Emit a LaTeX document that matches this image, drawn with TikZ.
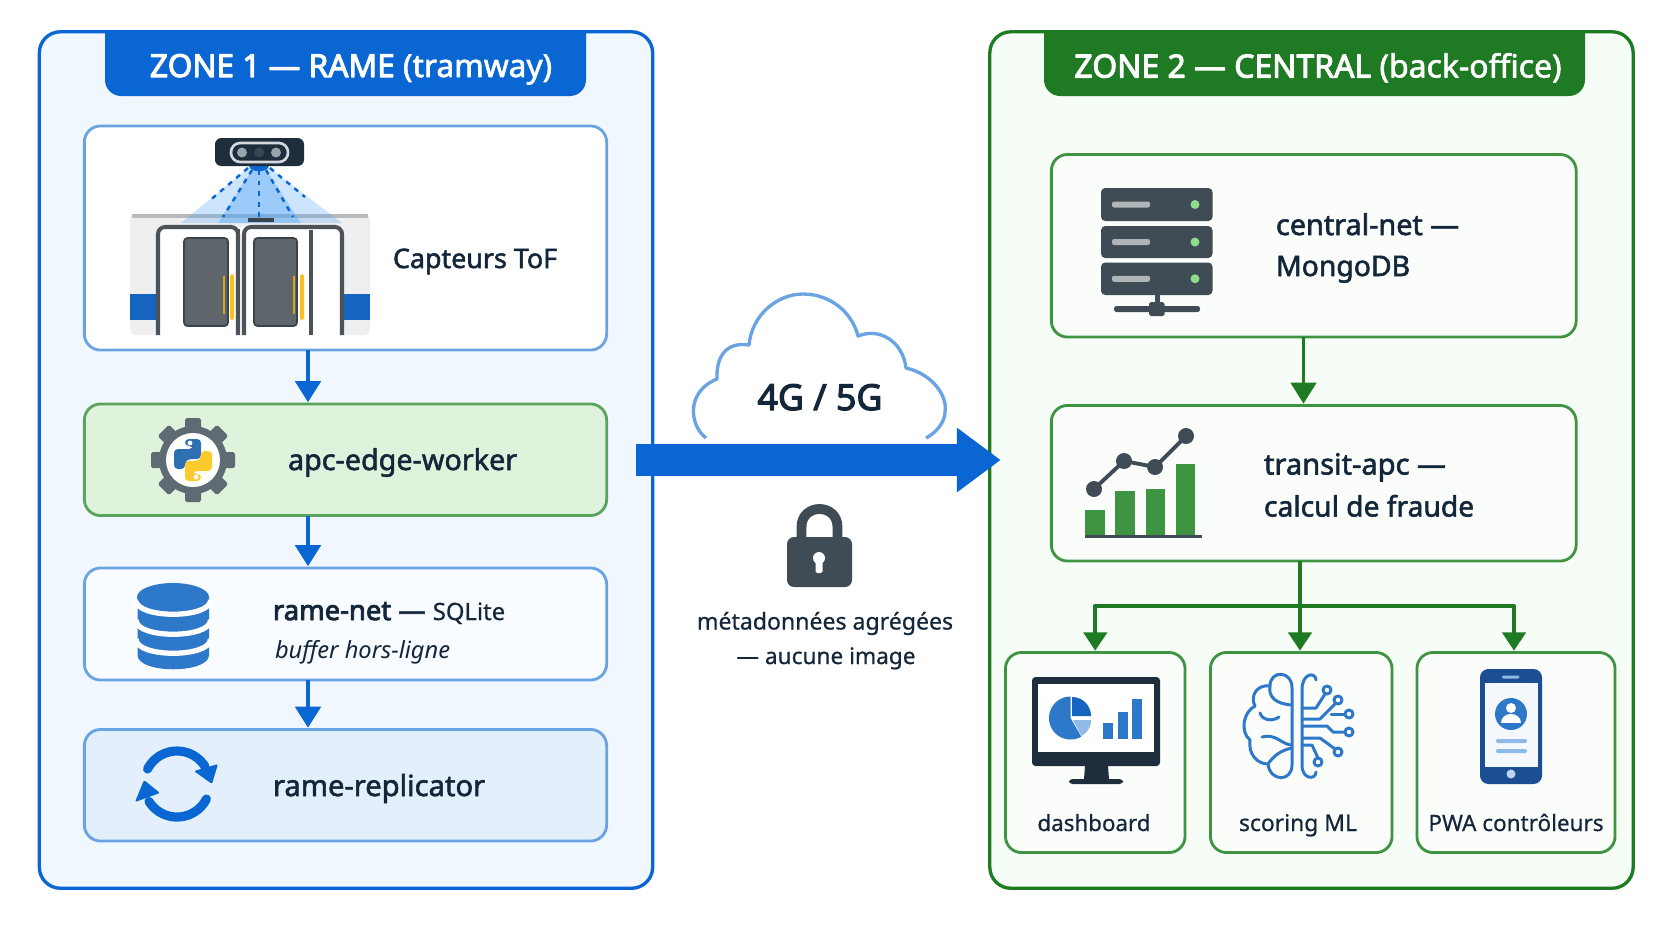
\documentclass[tikz,border=0pt]{standalone}
\usepackage{graphicx}
\usepackage{fontspec}
\setmainfont{Noto Sans}
\newfontfamily\medf[FakeBold=1.9]{Noto Sans}
\newfontfamily\boldf[FakeBold=3.2]{Noto Sans}
\newfontfamily\lightf[FakeBold=0.6]{Noto Sans}
\usetikzlibrary{arrows.meta,calc}
\newlength\pxu \setlength\pxu{0.28453pt}
\definecolor{zblue}{HTML}{0A66D2}
\definecolor{zgreen}{HTML}{1F7A24}
\definecolor{zblueF}{HTML}{F0F7FF}
\definecolor{zgreenF}{HTML}{F6FCF6}
\definecolor{bblue}{HTML}{69A3E2}
\definecolor{bgreen}{HTML}{3E9440}
\definecolor{ink}{HTML}{13263A}
\definecolor{slate}{HTML}{3F4B55}
\definecolor{navy}{HTML}{1F2E3D}
\definecolor{iconb}{HTML}{2E78CA}
\definecolor{paleb}{HTML}{8FB9E6}
\definecolor{gearc}{HTML}{5F6B73}
\definecolor{pyb}{HTML}{2F70B2}
\definecolor{pyy}{HTML}{FBCB2E}
\definecolor{doorc}{HTML}{4B5359}
\definecolor{apcF}{HTML}{DFF3DC}
\definecolor{netF}{HTML}{F8FBFF}
\definecolor{replF}{HTML}{E3F0FC}
\definecolor{cardG}{HTML}{FAFDFA}
\definecolor{wallc}{HTML}{EFEFEF}
\definecolor{roofc}{HTML}{B8BBBD}
\definecolor{DoorBlue}{HTML}{1565C0}
\definecolor{winB}{HTML}{3C4348}
\definecolor{winF}{HTML}{5F666B}
\definecolor{yel}{HTML}{FBBF24}
\definecolor{yelD}{HTML}{D9A520}
\definecolor{pillc}{HTML}{D3D8DC}
\definecolor{lensL}{HTML}{9BA4AA}
\definecolor{lensD}{HTML}{3A4650}
\definecolor{barG}{HTML}{B0B5B8}
\definecolor{LedG}{HTML}{8FDC8A}
\definecolor{PhoneB}{HTML}{1B4F91}
\definecolor{phoneS}{HTML}{F5F8FC}
\definecolor{conec}{HTML}{4FA3F5}
\newcommand\fitw[2]{\resizebox{#1\pxu}{!}{\fontsize{10}{12}\selectfont #2}}
\newcommand\bx[6]{\node[#6,minimum width={(#4-#2)*0.28453pt},minimum height={(#5-#3)*0.28453pt}] (#1) at ({(#2+#4)/2},{(#3+#5)/2}) {};}
\tikzset{
  every node/.style={inner sep=0pt,outer sep=0pt},
  zone1/.style={draw=zblue,fill=zblueF,line width=0.95pt,rounded corners=6pt},
  zone2/.style={draw=zgreen,fill=zgreenF,line width=0.95pt,rounded corners=6pt},
  bluebox/.style={draw=bblue,fill=white,line width=0.8pt,rounded corners=4.6pt},
  greenbox/.style={draw=bgreen,fill=cardG,line width=0.8pt,rounded corners=4.6pt},
  lab/.style={text=ink},
  barrow/.style={draw=zblue,line width=1.15pt,-{Triangle[length=6pt,width=7.2pt]},shorten >=0.5pt},
  garrow/.style={draw=zgreen,line width=1.1pt,-{Triangle[length=5.2pt,width=6.6pt]},shorten >=0.5pt},
  garrowbig/.style={draw=zgreen,line width=1.05pt,-{Triangle[length=6pt,width=7.2pt]},shorten >=0.5pt},
}
\begin{document}
\begin{tikzpicture}[x=0.01cm,y=-0.01cm,line join=round]
\useasboundingbox (0,0) rectangle (1672,941);
\fill[white] (0,0) rectangle (1672,941);
% ---------- zones
\bx{zoneA}{39.5}{32}{652.5}{888}{zone1}
\bx{zoneB}{990}{32}{1633}{888}{zone2}
\fill[zblue,rounded corners=4.6pt] (105,32) -- (105,96) -- (586,96) -- (586,32);
\fill[zgreen,rounded corners=4.6pt] (1044,32) -- (1044,96) -- (1585,96) -- (1585,32);
\node[anchor=base,text=white] (titleA) at (351,77) {\fitw{402}{\boldf ZONE 1 — RAME \medf(tramway)}};
\node[anchor=base,text=white] (titleB) at (1318,77.5) {\fitw{487}{\boldf ZONE 2 — CENTRAL \medf(back-office)}};
% ---------- left boxes
\bx{capt}{84.5}{126}{606.5}{350}{bluebox}
\bx{apc}{84.5}{404}{606.5}{515.5}{bluebox,draw=bgreen!85!white,fill=apcF}
\bx{ramenet}{84.5}{568}{606.5}{680}{bluebox,fill=netF}
\bx{repl}{84.5}{729.5}{606.5}{841}{bluebox,fill=replF}
\coordinate (lx) at (308,0);
\draw[barrow] (capt.south -| lx) -- (apc.north -| lx);
\draw[barrow] (apc.south -| lx) -- (ramenet.north -| lx);
\draw[barrow] (ramenet.south -| lx) -- (repl.north -| lx);
% ---------- right boxes
\bx{central}{1051.5}{154.5}{1576}{337}{greenbox}
\bx{transit}{1051.5}{405.5}{1576}{561}{greenbox}
\bx{dash}{1005.5}{652.5}{1185}{852.5}{greenbox}
\bx{score}{1210.5}{652.5}{1392}{852.5}{greenbox}
\bx{pwa}{1417}{652.5}{1615}{852.5}{greenbox}
\coordinate (cx) at (1303.5,0);
\draw[garrowbig] (central.south -| cx) -- (transit.north -| cx);
\coordinate (bus) at (1300,606);
\coordinate (pwax) at (1514,0);
\draw[garrow] (transit.south -| bus) -- (score.north -| bus);
\draw[garrow] (bus) -| (dash.north);
\draw[garrow] (bus) -| (pwa.north -| pwax);
% ---------- cloud and link
\draw[bblue,line width=0.95pt,fill=white]
 (706,438) .. controls (690,426) and (685,392) .. (717,379)
 .. controls (716,352) and (730,342) .. (749,345)
 .. controls (752,314) and (778,294) .. (803,294)
 .. controls (830,294) and (852,312) .. (858,336)
 .. controls (880,327) and (903,342) .. (906,368)
 .. controls (933,374) and (948,397) .. (945,412)
 .. controls (945,422) and (936,433) .. (926,438);
\draw[zblue,line width=8.9pt,-{Triangle[length=12.5pt,width=17.6pt]},shorten <=8.4pt,shorten >=-3.1pt] (apc.east |- 0,460) -- (zoneB.west |- 0,460);
% ---------- lock
\draw[slate,line width=2.8pt] (801.5,540) -- (801.5,527) .. controls (801.5,503) and (837.5,503) .. (837.5,527) -- (837.5,540);
\fill[slate,rounded corners=2pt] (787,537) rectangle (852,587);
\fill[white] (819,558) circle[radius=6];
\fill[white,rounded corners=0.5pt] (815.5,558) rectangle (822.5,573);
% ---------- left labels
\node[lab,anchor=base west] (tcapt) at (393,268) {\fitw{164}{\medf Capteurs ToF}};
\node[lab,anchor=base west] (tapc) at (288,470) {\fitw{229}{\medf apc-edge-worker}};
\node[lab,anchor=base west] (tnet) at (273,620) {\fitw{232}{{\boldf rame-net} {\medf —} {\lightf\fontsize{8.7}{11}\selectfont SQLite}}};
\node[lab,anchor=base west] (tbuf) at (275,658) {\fitw{175}{\itshape buffer hors-ligne}};
\node[lab,anchor=base west] (trepl) at (273,796) {\fitw{212}{\medf rame-replicator}};
% ---------- middle labels
\node[lab,anchor=base] (t4g) at (820,410) {\fitw{125}{\boldf 4G / 5G}};
\node[lab,anchor=base] (tmeta) at (825,629.5) {\fitw{256}{\lightf métadonnées agrégées}};
\node[lab,anchor=base] (tnone) at (826,664) {\fitw{179}{\lightf — aucune image}};
% ---------- right labels
\node[lab,anchor=base west] (tcentral) at (1276,235) {\fitw{183}{\medf central-net —}};
\node[lab,anchor=base west] (tmongo) at (1276,276) {\fitw{134}{\medf MongoDB}};
\node[lab,anchor=base west] (ttransit) at (1264,474.5) {\fitw{182}{\medf transit-apc —}};
\node[lab,anchor=base west] (tfraud) at (1264,516.5) {\fitw{210}{\medf calcul de fraude}};
\node[lab,anchor=base] (tdash) at (1094,831) {\fitw{113}{\lightf dashboard}};
\node[lab,anchor=base] (tscore) at (1298,831) {\fitw{118}{\lightf scoring ML}};
\node[lab,anchor=base] (tpwa) at (1516,831) {\fitw{175}{\lightf PWA contrôleurs}};
% ---------- train door icon
\fill[wallc,rounded corners=1.5pt] (130,214) rectangle (370,335);
\fill[roofc] (132,214) rectangle (368,218);
\fill[DoorBlue] (130,294) rectangle (158,320);
\fill[DoorBlue] (343,294) rectangle (370,320);
\fill[white] (158,227) rectangle (343,335);
\fill[white] (238,227) rectangle (244,335);
\fill[conec,opacity=0.28] (248,168) -- (270,168) -- (342,223) -- (181,223) -- cycle;
\fill[conec,opacity=0.38] (252,170) -- (266,170) -- (301,223) -- (218,223) -- cycle;
\fill[doorc!60!navy] (248,218) rectangle (274,222);
\draw[doorc,line width=1.15pt,rounded corners=2pt] (158,335) -- (158,227) -- (238,227) -- (238,335);
\draw[doorc,line width=1.15pt,rounded corners=2pt] (244,335) -- (244,227) -- (342,227) -- (342,335);
\draw[doorc,line width=1.15pt] (311,230) -- (311,335);
\draw[doorc,line width=1.15pt] (238,229) -- (238,335);
\draw[winB,fill=winF,line width=0.5pt,rounded corners=1pt] (184,238) rectangle (228,326);
\draw[winB,fill=winF,line width=0.5pt,rounded corners=1pt] (254,238) rectangle (297,326);
\fill[yel,rounded corners=0.5pt] (230,274) rectangle (234,320);
\fill[yel,rounded corners=0.5pt] (300,274) rectangle (304,320);
\fill[yelD] (223,276) rectangle (225,314);
\fill[yelD] (293,276) rectangle (295,314);
% ---------- sensor icon
\draw[zblue,line width=0.7pt,dash pattern=on 1.4pt off 1.6pt] (248,168) -- (208,202);
\draw[zblue,line width=0.7pt,dash pattern=on 1.4pt off 1.6pt] (270,168) -- (305,197);
\draw[zblue,line width=0.7pt,dash pattern=on 1.4pt off 1.6pt] (252,170) -- (223,217);
\draw[zblue,line width=0.7pt,dash pattern=on 1.4pt off 1.6pt] (266,170) -- (293,217);
\draw[zblue,line width=0.7pt,dash pattern=on 1.4pt off 1.6pt] (259,170) -- (259,218);
\fill[zblue] (249,166) .. controls (251,173) and (267,173) .. (269,166) -- cycle;
\fill[navy,rounded corners=1.8pt] (215,138) rectangle (304,166);
\draw[pillc,line width=0.75pt,rounded corners=2.6pt] (231,143) rectangle (288,162);
\fill[lensL] (242,152.5) circle[radius=5];
\fill[lensD] (259,152.5) circle[radius=5];
\fill[lensL] (276,152.5) circle[radius=5];
% ---------- gear with python
\fill[gearc] (193,460) circle[radius=34];
\foreach \a in {0,45,...,315}
  \fill[gearc,rotate around={\a:(193,460)},rounded corners=0.5pt] (185,418) rectangle (201,436);
\fill[white] (193,460) circle[radius=27];
\begin{scope}[shift={(193,460)}]
\fill[pyb,rounded corners=1.1pt] (-8,-21) -- (8,-21) -- (8,-1) -- (-5,-1) -- (-8,2) -- (-8,9) -- (-19,9) -- (-19,-11) -- (0,-11) -- (0,-14) -- (-8,-14) -- cycle;
\fill[pyy,rounded corners=1.1pt] (8,21) -- (-8,21) -- (-8,1) -- (5,1) -- (8,-2) -- (8,-9) -- (19,-9) -- (19,11) -- (0,11) -- (0,14) -- (8,14) -- cycle;
\fill[white] (-3,-17) circle[radius=2.4];
\fill[white] (3,17) circle[radius=2.4];
\end{scope}
% ---------- database
\fill[iconb] (137.5,597) -- (137.5,655) .. controls (137.5,674) and (209,674) .. (209,655) -- (209,597) -- cycle;
\foreach \y in {600,620,639}
  \draw[white,line width=1.5pt] (136,\y) .. controls (136,\y+19) and (210.5,\y+19) .. (210.5,\y);
\fill[iconb] (173,597) ellipse[x radius=36,y radius=14];
% ---------- sync
\draw[zblue,line width=2.6pt,line cap=round] plot[domain=207:328,samples=30] ({177+33*cos(\x)},{784+33*sin(\x)});
\fill[zblue,rounded corners=0.4pt] (218,764) -- (194,771) -- (212,784) -- cycle;
\draw[zblue,line width=2.6pt,line cap=round] plot[domain=27:148,samples=30] ({177+33*cos(\x)},{784+33*sin(\x)});
\fill[zblue,rounded corners=0.4pt] (135,802) -- (144,780) -- (160,793) -- cycle;
% ---------- server
\foreach \a/\b in {188/221,226/258,262.5/295}{
  \fill[slate,rounded corners=1.2pt] (1101,\a) rectangle (1212.5,\b);
  \fill[barG,rounded corners=0.6pt] (1112,{(\a+\b)/2-3}) rectangle (1150,{(\a+\b)/2+3});
  \fill[LedG] (1195,{(\a+\b)/2}) circle[radius=4.5];
}
\fill[slate] (1154.5,295) rectangle (1159.5,305);
\fill[slate,rounded corners=0.7pt] (1114,306) rectangle (1200,312);
\fill[slate,rounded corners=0.5pt] (1149,302) rectangle (1164.5,316);
% ---------- chart
\fill[bgreen] (1085,510) rectangle (1104.5,536);
\fill[bgreen] (1115,491) rectangle (1134.5,536);
\fill[bgreen] (1146,489) rectangle (1164.5,536);
\fill[bgreen] (1176,464) rectangle (1195,536);
\draw[slate,line width=0.75pt] (1085,536.5) -- (1201.5,536.5);
\draw[slate,line width=1.1pt] (1094,489) -- (1124,461) -- (1155,467) -- (1186,436);
\foreach \p in {(1094,489),(1124,461),(1155,467),(1186,436)}
  \fill[slate] \p circle[radius=8];
% ---------- monitor
\fill[navy,rounded corners=1pt] (1032,677) rectangle (1160,766);
\fill[white] (1038,684) rectangle (1154,752);
\fill[navy] (1085,766) -- (1108,766) -- (1109,779) -- (1084,779) -- cycle;
\fill[navy,rounded corners=1pt] (1069,779) rectangle (1123,784);
\fill[iconb] (1070.5,718) -- plot[domain=60:270,samples=40] ({1070.5+21.5*cos(\x)},{718+21.5*sin(\x)}) -- cycle;
\fill[DoorBlue] (1072,716) -- plot[domain=270:360,samples=20] ({1072+19*cos(\x)},{716+19*sin(\x)}) -- cycle;
\fill[paleb] (1073,720) -- plot[domain=0:62,samples=20] ({1073+18*cos(\x)},{720+18*sin(\x)}) -- cycle;
\fill[iconb] (1103,723) rectangle (1112.5,739);
\fill[iconb] (1118,711.5) rectangle (1127.5,739);
\fill[iconb] (1132,698.5) rectangle (1142,739);
% ---------- brain
\begin{scope}[iconb,line width=0.85pt,line cap=round]
\draw (1292,688) .. controls (1292,670) and (1270,670) .. (1270,686)
 .. controls (1256,684) and (1250,697) .. (1255,706)
 .. controls (1243,712) and (1240,732) .. (1250,740)
 .. controls (1248,755) and (1258,764) .. (1268,764)
 .. controls (1270,782) and (1292,782) .. (1292,765) -- cycle;
\draw (1270,686) .. controls (1268,697) and (1276,704) .. (1292,705);
\draw (1260,713) .. controls (1262,720) and (1272,722) .. (1279,717);
\draw (1292,745) .. controls (1282,745) and (1276,733) .. (1262,737);
\draw (1292,748) .. controls (1282,750) and (1274,755) .. (1268,764);
\draw (1302,690) .. controls (1302,672) and (1316,672) .. (1316,680);
\draw (1302,690) -- (1302,765) .. controls (1302,780) and (1316,780) .. (1316,772);
\draw (1302,708) -- (1316,708) -- (1325,694);
\draw (1302,719) -- (1320,719) -- (1335,704);
\draw (1331,714) -- (1345,714);
\draw (1302,726) -- (1327,726) -- (1333,732) -- (1345,732);
\draw (1302,738) -- (1320,738) -- (1335,749);
\draw (1302,745) -- (1312,745) -- (1318,758);
\foreach \p in {(1327,690),(1338,700),(1349,714),(1349,732),(1338,752),(1318,762)}
  \draw[fill=white] \p circle[radius=4];
\end{scope}
% ---------- phone
\fill[PhoneB,rounded corners=2.4pt] (1480,669) rectangle (1542,784);
\fill[phoneS] (1485,683) rectangle (1538,767);
\fill[paleb,rounded corners=0.4pt] (1502,675.5) rectangle (1519.5,678.5);
\fill[paleb!60!white] (1511,774) circle[radius=4.5];
\fill[iconb] (1511,714) circle[radius=16];
\fill[white] (1511,708) circle[radius=5];
\fill[white] (1501,723) .. controls (1501,711) and (1521,711) .. (1521,723) -- cycle;
\fill[paleb,rounded corners=0.4pt] (1496,739) rectangle (1527,743);
\fill[paleb,rounded corners=0.4pt] (1496,749) rectangle (1527,753);
\end{tikzpicture}
\end{document}
